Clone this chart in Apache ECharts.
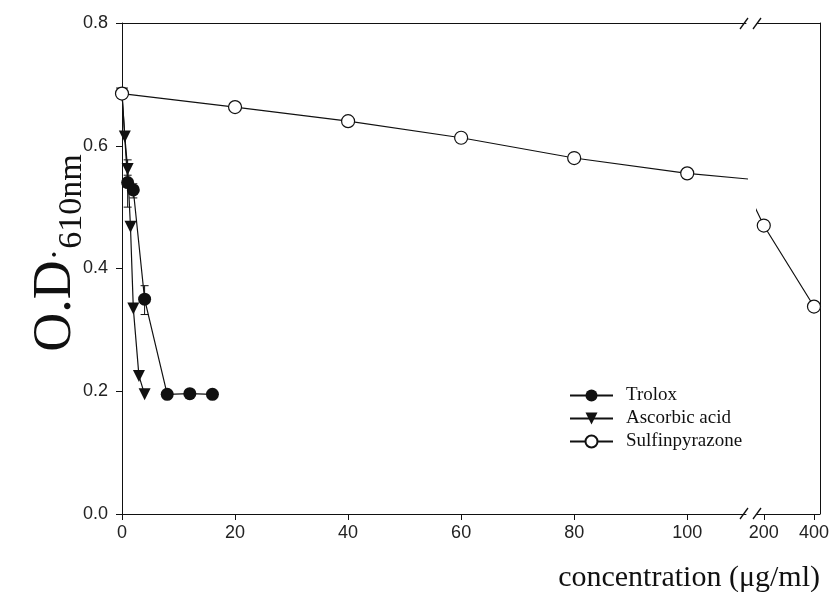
<!DOCTYPE html>
<html>
<head>
<meta charset="utf-8">
<script src="https://cdn.jsdelivr.net/npm/echarts@6/dist/echarts.min.js"></script>
<style>
  html, body { margin: 0; background: #fff; }
  #chart { width: 832px; height: 592px; }
</style>
</head>
<body>
<div id="chart"></div>
<script>
// values
const troloxX = [0, 1, 2, 4, 8, 12, 16];
const troloxY = [0.685, 0.54, 0.528, 0.35, 0.195, 0.196, 0.195];
const troloxErr = [[1, 0.50, 0.577], [2, 0.515, 0.538], [4, 0.325, 0.372]]; // x, low, high
const ascorbicX = [0, 0.5, 1, 1.5, 2, 3, 4];
const ascorbicY = [0.685, 0.615, 0.562, 0.468, 0.335, 0.225, 0.195];
const ascorbicErr = [[1, 0.552, 0.571]];
const sulfinX = [0, 20, 40, 60, 80, 100, 200, 400];
const sulfinY = [0.685, 0.663, 0.64, 0.613, 0.58, 0.555, 0.47, 0.338];
const xTicksLeft = [0, 20, 40, 60, 80, 100];
const xTicksRight = [200, 400];
const yTicks = [0, 0.2, 0.4, 0.6, 0.8];

const ink = '#111';
const zip = (xs, ys) => xs.map((x, i) => [x, ys[i]]);

const chart = echarts.init(document.getElementById('chart'));

function bottomAxis(gridIndex, min, max, ticks) {
  return {
    type: 'value', gridIndex, min, max,
    axisLine: { onZero: false, lineStyle: { color: ink, width: 1 } },
    axisTick: { customValues: ticks, length: 6, lineStyle: { color: ink } },
    axisLabel: { customValues: ticks, margin: 10, color: '#222', fontSize: 18, fontFamily: 'Liberation Sans' },
    splitLine: { show: false },
  };
}

function topAxis(gridIndex, min, max) {
  return {
    type: 'value', gridIndex, min, max, position: 'top',
    axisLine: { onZero: false, lineStyle: { color: ink, width: 1 } },
    axisTick: { show: false }, axisLabel: { show: false }, splitLine: { show: false },
  };
}

function errorBars(rows) {
  return {
    type: 'custom',
    xAxisIndex: 0, yAxisIndex: 0,
    data: rows,
    encode: { x: 0, y: [1, 2] },
    z: 1,
    renderItem(params, api) {
      const x = api.value(0);
      const lo = api.coord([x, api.value(1)]);
      const hi = api.coord([x, api.value(2)]);
      const w = 4;
      const style = { stroke: ink, lineWidth: 1 };
      return {
        type: 'group',
        children: [
          { type: 'line', shape: { x1: lo[0], y1: lo[1], x2: hi[0], y2: hi[1] }, style },
          { type: 'line', shape: { x1: lo[0] - w, y1: lo[1], x2: lo[0] + w, y2: lo[1] }, style },
          { type: 'line', shape: { x1: hi[0] - w, y1: hi[1], x2: hi[0] + w, y2: hi[1] }, style },
        ],
      };
    },
  };
}

const sulfinStyle = {
  type: 'line', name: 'Sulfinpyrazone',
  data: zip(sulfinX, sulfinY),
  symbol: 'circle', symbolSize: 13, clip: true, z: 4,
  itemStyle: { color: '#fff', borderColor: ink, borderWidth: 1.2 },
  lineStyle: { color: ink, width: 1.2 },
};

chart.setOption({
  animation: false,
  grid: [
    { left: 122, top: 23, width: 624, height: 491 },
    { left: 757, top: 23, width: 65, height: 491 },
  ],
  xAxis: [
    bottomAxis(0, 0, 110.4, xTicksLeft),
    bottomAxis(1, 173, 423, xTicksRight),
    topAxis(0, 0, 110.4),
    topAxis(1, 173, 423),
  ],
  yAxis: [
    {
      type: 'value', gridIndex: 0, min: 0, max: 0.8, interval: 0.2,
      axisLine: { show: true, onZero: false, lineStyle: { color: ink, width: 1 } },
      axisTick: { customValues: yTicks, length: 6, lineStyle: { color: ink } },
      axisLabel: { margin: 14, color: '#222', fontSize: 18, fontFamily: 'Liberation Sans',
        formatter: v => v.toFixed(1) },
      splitLine: { show: false },
    },
    {
      type: 'value', gridIndex: 1, min: 0, max: 0.8, position: 'right',
      axisLine: { show: true, onZero: false, lineStyle: { color: ink, width: 1 } },
      axisTick: { show: false }, axisLabel: { show: false }, splitLine: { show: false },
    },
  ],
  legend: {
    data: ['Trolox', 'Ascorbic acid', 'Sulfinpyrazone'],
    orient: 'vertical', left: 569, top: 386, padding: 0,
    itemWidth: 43, itemHeight: 15, itemGap: 4,
    textStyle: { color: ink, fontSize: 19, fontFamily: 'Liberation Serif', padding: [0, 0, 0, 8] },
  },
  series: [
    errorBars(troloxErr),
    errorBars(ascorbicErr),
    {
      type: 'line', name: 'Trolox', xAxisIndex: 0, yAxisIndex: 0,
      data: zip(troloxX, troloxY),
      symbol: 'circle', symbolSize: 13, z: 3,
      itemStyle: { color: ink },
      lineStyle: { color: ink, width: 1.2 },
    },
    {
      type: 'line', name: 'Ascorbic acid', xAxisIndex: 0, yAxisIndex: 0,
      data: zip(ascorbicX, ascorbicY),
      symbol: 'triangle', symbolRotate: 180, symbolSize: 12, z: 3,
      itemStyle: { color: ink },
      lineStyle: { color: ink, width: 1.2 },
    },
    Object.assign({ xAxisIndex: 0, yAxisIndex: 0 }, sulfinStyle),
    Object.assign({ xAxisIndex: 1, yAxisIndex: 1 }, sulfinStyle),
  ],
  graphic: [
    {
      type: 'text', x: 56, y: 253, rotation: Math.PI / 2,
      style: {
        text: '{a|O.D}{c|·}{b|610nm}',
        align: 'center', verticalAlign: 'middle', fill: ink,
        rich: {
          a: { fontSize: 54, fontFamily: 'Liberation Serif', lineHeight: 66, verticalAlign: 'middle', fill: ink },
          c: { fontSize: 34, fontFamily: 'Liberation Serif', lineHeight: 66, verticalAlign: 'middle', fill: ink },
          b: { fontSize: 34, fontFamily: 'Liberation Serif', lineHeight: 66, verticalAlign: 'bottom', fill: ink },
        },
      },
    },
    {
      type: 'text', x: 820, y: 578,
      style: { text: 'concentration (μg/ml)', align: 'right', verticalAlign: 'middle',
        fill: ink, fontSize: 30, fontFamily: 'Liberation Serif' },
    },
    // axis break marks
    { type: 'line', shape: { x1: 740, y1: 29, x2: 748, y2: 18 }, style: { stroke: ink, lineWidth: 1.3 } },
    { type: 'line', shape: { x1: 753, y1: 29, x2: 761, y2: 18 }, style: { stroke: ink, lineWidth: 1.3 } },
    { type: 'line', shape: { x1: 740, y1: 519, x2: 748, y2: 508 }, style: { stroke: ink, lineWidth: 1.3 } },
    { type: 'line', shape: { x1: 753, y1: 519, x2: 761, y2: 508 }, style: { stroke: ink, lineWidth: 1.3 } },
  ],
});
</script>
</body>
</html>
